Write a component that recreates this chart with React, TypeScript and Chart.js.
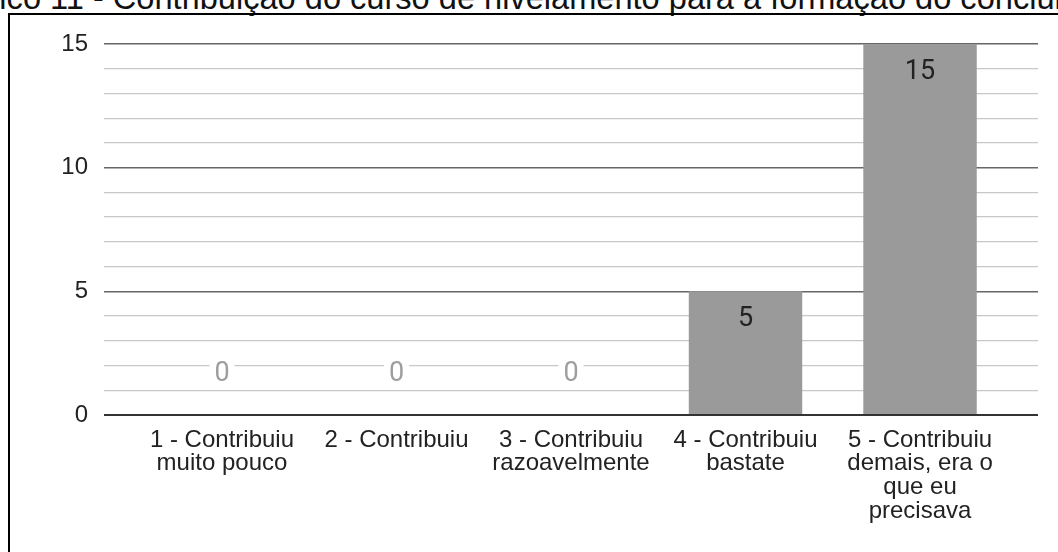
import React, { useEffect, useRef } from "react";
import { Chart, registerables } from "chart.js";

Chart.register(...registerables);

const TITLE =
  "Gráfico 11 - Contribuição do curso de nivelamento para a formação do concluinte";

const CATEGORIES: string[][] = [
  ["1 - Contribuiu", "muito pouco"],
  ["2 - Contribuiu"],
  ["3 - Contribuiu", "razoavelmente"],
  ["4 - Contribuiu", "bastate"],
  ["5 - Contribuiu", "demais, era o", "que eu", "precisava"],
];

const VALUES: number[] = [0, 0, 0, 5, 15];

const Y_MIN = 0;
const Y_MAX = 15;
const Y_MAJOR_STEP = 5;

const AXIS_FONT = 'Arial, "Liberation Sans", sans-serif';
const LABEL_FONT = 'Roboto, Arial, sans-serif';

const barLabelPlugin = {
  id: "barLabels",
  afterDatasetsDraw(chart: any) {
    const ctx = chart.ctx;
    const meta = chart.getDatasetMeta(0);
    const yScale = chart.scales.y;
    const zeroY = yScale.getPixelForValue(0);
    ctx.save();
    ctx.font = `27px ${LABEL_FONT}`;
    ctx.textAlign = "center";
    ctx.textBaseline = "middle";
    meta.data.forEach((el: any, i: number) => {
      const v = VALUES[i];
      const text = String(v);
      if (v > 0) {
        ctx.fillStyle = "#222222";
        ctx.fillText(text, el.x, el.y + 28);
      } else {
        const y = zeroY - 41;
        const w = ctx.measureText(text).width + 10;
        ctx.fillStyle = "#ffffff";
        ctx.fillRect(el.x - w / 2, y - 10, w, 20);
        ctx.fillStyle = "#9e9e9e";
        ctx.fillText(text, el.x, y);
      }
    });
    ctx.restore();
  },
};

export default function App() {
  const canvasRef = useRef<HTMLCanvasElement | null>(null);

  useEffect(() => {
    if (!canvasRef.current) return;
    const chart = new Chart(canvasRef.current, {
      type: "bar",
      data: {
        datasets: [
          {
            data: VALUES.map((v, i) => ({ x: i, y: v })),
            backgroundColor: "#9a9a9a",
            borderWidth: 0,
            barPercentage: 0.65,
            categoryPercentage: 1,
          },
        ],
      },
      options: {
        animation: false,
        responsive: false,
        events: [],
        layout: { padding: { left: 0, right: 20, top: 44, bottom: 0 } },
        plugins: {
          legend: { display: false },
          tooltip: { enabled: false },
          title: { display: false },
        },
        scales: {
          x: {
            type: "linear",
            offset: false,
            min: -0.676,
            max: CATEGORIES.length - 1 + 0.676,
            grid: { display: false, drawTicks: false, offset: false },
            border: { display: false },
            afterBuildTicks: (scale: any) => {
              scale.ticks = CATEGORIES.map((_, i) => ({ value: i }));
            },
            afterFit: (scale: any) => {
              scale.height = 137;
            },
            ticks: {
              autoSkip: false,
              maxRotation: 0,
              minRotation: 0,
              padding: 13,
              color: "#222222",
              font: { family: AXIS_FONT, size: 24, lineHeight: 0.99 },
              callback: (value: any) => CATEGORIES[Math.round(Number(value))] ?? "",
            },
          },
          y: {
            min: Y_MIN,
            max: Y_MAX,
            border: { display: false },
            afterFit: (scale: any) => {
              scale.width = 104;
            },
            grid: {
              drawTicks: false,
              color: (c: any) =>
                c.tick.value === 0
                  ? "#333333"
                  : c.tick.value % Y_MAJOR_STEP === 0
                  ? "#666666"
                  : "#c8c8c8",
              lineWidth: (c: any) =>
                c.tick.value === 0 ? 2 : c.tick.value % Y_MAJOR_STEP === 0 ? 1.5 : 1.3,
            },
            ticks: {
              stepSize: 1,
              autoSkip: false,
              padding: 16,
              color: "#222222",
              font: { family: AXIS_FONT, size: 24 },
              callback: (value: any) =>
                Number(value) % Y_MAJOR_STEP === 0 ? String(value) : "",
            },
          },
        },
      },
      plugins: [barLabelPlugin],
    });
    return () => chart.destroy();
  }, []);

  return (
    <div
      style={{
        position: "fixed",
        left: 0,
        top: 0,
        width: 1058,
        height: 552,
        overflow: "hidden",
        background: "#ffffff",
      }}
    >
      <div
        style={{
          position: "absolute",
          left: -64,
          top: -18,
          whiteSpace: "nowrap",
          fontFamily: AXIS_FONT,
          fontSize: 32.6,
          lineHeight: "32px",
          color: "#111111",
        }}
      >
        {TITLE}
      </div>
      <div
        style={{
          position: "absolute",
          left: 8,
          top: 13,
          width: 1200,
          height: 700,
          border: "2px solid #000000",
          boxSizing: "border-box",
        }}
      />
      <canvas
        ref={canvasRef}
        width={1058}
        height={552}
        style={{ position: "absolute", left: 0, top: 0, width: 1058, height: 552 }}
      />
    </div>
  );
}
